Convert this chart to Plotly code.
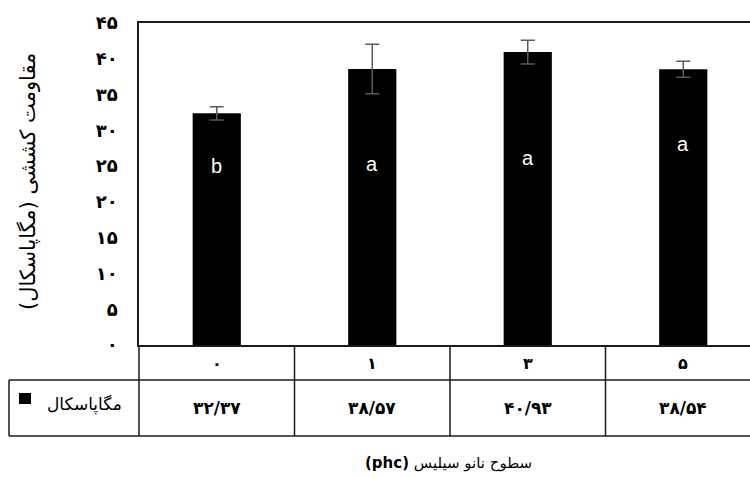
import plotly.graph_objects as go

# ---------------- data ----------------
categories = ["۰", "۱", "۳", "۵"]
values = [32.37, 38.57, 40.93, 38.54]
value_labels = ["۳۲/۳۷", "۳۸/۵۷", "۴۰/۹۳", "۳۸/۵۴"]
errors = [0.93, 3.45, 1.66, 1.12]
letters = ["b", "a", "a", "a"]
letter_y = [25.0, 25.3, 26.2, 28.1]
y_tickvals = [0, 5, 10, 15, 20, 25, 30, 35, 40, 45]
y_ticktext = ["۰", "۵", "۱۰", "۱۵", "۲۰", "۲۵", "۳۰", "۳۵", "۴۰", "۴۵"]
series_name = "مگاپاسکال"
y_title = "مقاومت کششی (مگاپاسکال)"
x_title_fa = "سطوح نانو سیلیس"
x_title_unit = "(phc)"

# ---------------- layout geometry ----------------
W, H = 750, 478
L, R, T, B = 139, 0, 23, 133
PW, PH = W - L - R, H - T - B
CAT_PX = 155.5
x_range = [-0.5, -0.5 + PW / CAT_PX]

FA = "DejaVu Sans"
RLE, PDF = "\u202b", "\u202c"

def xp(px):
    return (px - L) / PW

def yp(py):
    return (T + PH - py) / PH

def cat_paper(v):
    return (v - x_range[0]) / (x_range[1] - x_range[0])

fig = go.Figure()
fig.add_trace(go.Bar(
    x=list(range(len(categories))), y=values,
    width=0.31,
    marker=dict(color="black", line=dict(width=0)),
    error_y=dict(type="data", array=errors, visible=True,
                 color="#5a5a5a", thickness=1.5, width=7),
    showlegend=False,
))

shapes = []
line = dict(color="#1a1a1a", width=1.5)
row1_bot = yp(380)
row2_bot = yp(436)
left_px = 9
for yy in (row1_bot, row2_bot):
    shapes.append(dict(type="line", xref="paper", yref="paper",
                       x0=xp(left_px), x1=1, y0=yy, y1=yy, line=line))
shapes.append(dict(type="line", xref="paper", yref="paper",
                   x0=xp(left_px), x1=xp(left_px), y0=row2_bot, y1=row1_bot, line=line))
for k in range(len(categories)):
    xb = cat_paper(k - 0.5)
    shapes.append(dict(type="line", xref="paper", yref="paper",
                       x0=xb, x1=xb, y0=row2_bot, y1=0, line=line))
# legend square
shapes.append(dict(type="rect", xref="paper", yref="paper",
                   x0=xp(19), x1=xp(31), y0=yp(404), y1=yp(393),
                   fillcolor="black", line=dict(width=0)))

def ann(**kw):
    base = dict(showarrow=False, xanchor="center", yanchor="middle")
    base.update(kw)
    return base

annotations = []
for i, c in enumerate(categories):
    annotations.append(ann(x=i, y=yp(363), xref="x", yref="paper",
                           text=f"<b>{c}</b>",
                           font=dict(family=FA, size=16, color="black")))
    annotations.append(ann(x=i, y=yp(408), xref="x", yref="paper",
                           text=f"<b>{value_labels[i]}</b>",
                           font=dict(family=FA, size=17, color="black")))
    annotations.append(ann(x=i, y=letter_y[i], xref="x", yref="y",
                           text=letters[i],
                           font=dict(family="Liberation Sans", size=20, color="white")))
annotations.append(ann(x=xp(84), y=yp(404), xref="paper", yref="paper",
                       text=series_name,
                       font=dict(family=FA, size=17, color="black")))
annotations.append(ann(x=xp(448), y=yp(463), xref="paper", yref="paper",
                       text=RLE + x_title_fa + " <b>" + x_title_unit + "</b>" + PDF,
                       font=dict(family=FA, size=15, color="black")))
annotations.append(ann(x=xp(28), y=yp(182), xref="paper", yref="paper",
                       text=RLE + y_title + PDF, textangle=-90,
                       font=dict(family=FA, size=21, color="black")))

fig.update_layout(
    width=W, height=H,
    margin=dict(l=L, r=R, t=T, b=B),
    paper_bgcolor="white", plot_bgcolor="white",
    shapes=shapes, annotations=annotations,
    xaxis=dict(range=x_range, showticklabels=False, ticks="",
               showgrid=False, zeroline=False,
               showline=True, mirror=True, linecolor="#1a1a1a", linewidth=1.5),
    yaxis=dict(range=[0, 45], tickvals=y_tickvals,
               ticktext=[f"<b>{t}</b>" for t in y_ticktext],
               tickfont=dict(family=FA, size=18, color="black"),
               ticks="outside", ticklen=16, tickcolor="rgba(0,0,0,0)",
               showgrid=False, zeroline=False,
               showline=True, linecolor="#1a1a1a", linewidth=1.5),
    font=dict(family=FA),
)

fig.write_html("out.html")
